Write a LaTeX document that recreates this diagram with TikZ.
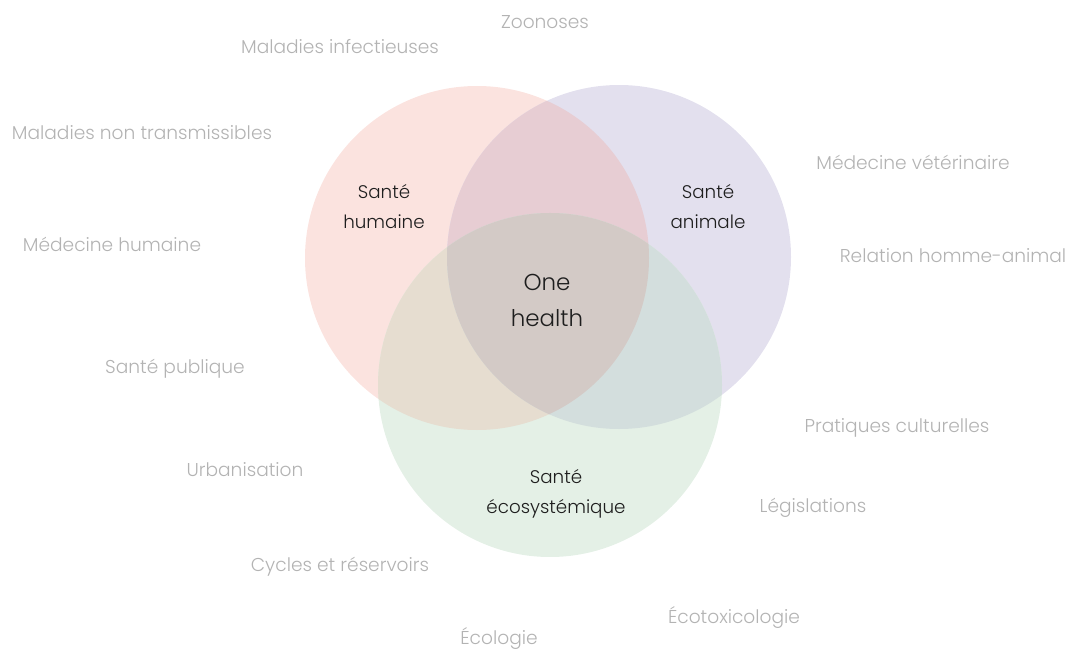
\documentclass[tikz,border=0pt]{standalone}
\usepackage{fontspec}
\setmainfont{Poppins}[UprightFont={* Light}]
\begin{document}
\definecolor{humanfill}{HTML}{FBE3DF}
\definecolor{animalfill}{HTML}{E3E0EE}
\definecolor{ecofill}{HTML}{E4F0E6}
\definecolor{hafill}{HTML}{E7CDD3}
\definecolor{hefill}{HTML}{E6DDD0}
\definecolor{aefill}{HTML}{D3DEDD}
\definecolor{allfill}{HTML}{D3CAC6}
\definecolor{topic}{HTML}{B3B3B3}
\definecolor{core}{HTML}{1E1E1E}
\begin{tikzpicture}[x=1pt,y=-1pt,
  topiclabel/.style={text=topic,font=\fontsize{18.6}{22}\selectfont,inner sep=0pt},
  domainlabel/.style={text=core,font=\fontsize{18.3}{30}\selectfont,align=center,inner sep=0pt},
  corelabel/.style={text=core,font=\fontsize{23}{36}\selectfont,align=center,inner sep=0pt}]
\useasboundingbox (0,0) rectangle (1071,652);
\def\humancirc{(477,258) circle[radius=172]}
\def\animalcirc{(619,257) circle[radius=172]}
\def\ecocirc{(550,385) circle[radius=172]}
% the three domains
\fill[humanfill] \humancirc;
\fill[animalfill] \animalcirc;
\fill[ecofill] \ecocirc;
% pairwise overlaps
\begin{scope}\clip \humancirc; \fill[hafill] \animalcirc; \end{scope}
\begin{scope}\clip \humancirc; \fill[hefill] \ecocirc; \end{scope}
\begin{scope}\clip \animalcirc; \fill[aefill] \ecocirc; \end{scope}
% common core
\begin{scope}\clip \humancirc; \clip \animalcirc; \fill[allfill] \ecocirc; \end{scope}
% domain labels
\node[domainlabel] (human) at (384,207) {Santé\\humaine};
\node[domainlabel] (animal) at (708,207) {Santé\\animale};
\node[domainlabel] (eco) at (556,494) {Santé\\écosystémique};
\node[corelabel] (onehealth) at (547,300) {One\\health};
% surrounding topics
\node[topiclabel] (zoo) at (545,22) {Zoonoses};
\node[topiclabel] (infect) at (340,47) {Maladies infectieuses};
\node[topiclabel] (nontrans) at (142,133) {Maladies non transmissibles};
\node[topiclabel] (veto) at (913,162) {Médecine vétérinaire};
\node[topiclabel] (medhum) at (112,244) {Médecine humaine};
\node[topiclabel] (relation) at (953,256) {Relation homme-animal};
\node[topiclabel] (public) at (175,369) {Santé publique};
\node[topiclabel] (culture) at (897,428) {Pratiques culturelles};
\node[topiclabel] (urban) at (245,470) {Urbanisation};
\node[topiclabel] (legis) at (813,508) {Législations};
\node[topiclabel] (cycles) at (340,567) {Cycles et réservoirs};
\node[topiclabel] (ecotox) at (734,617) {Écotoxicologie};
\node[topiclabel] (ecology) at (499,638) {Écologie};
\end{tikzpicture}
\end{document}
